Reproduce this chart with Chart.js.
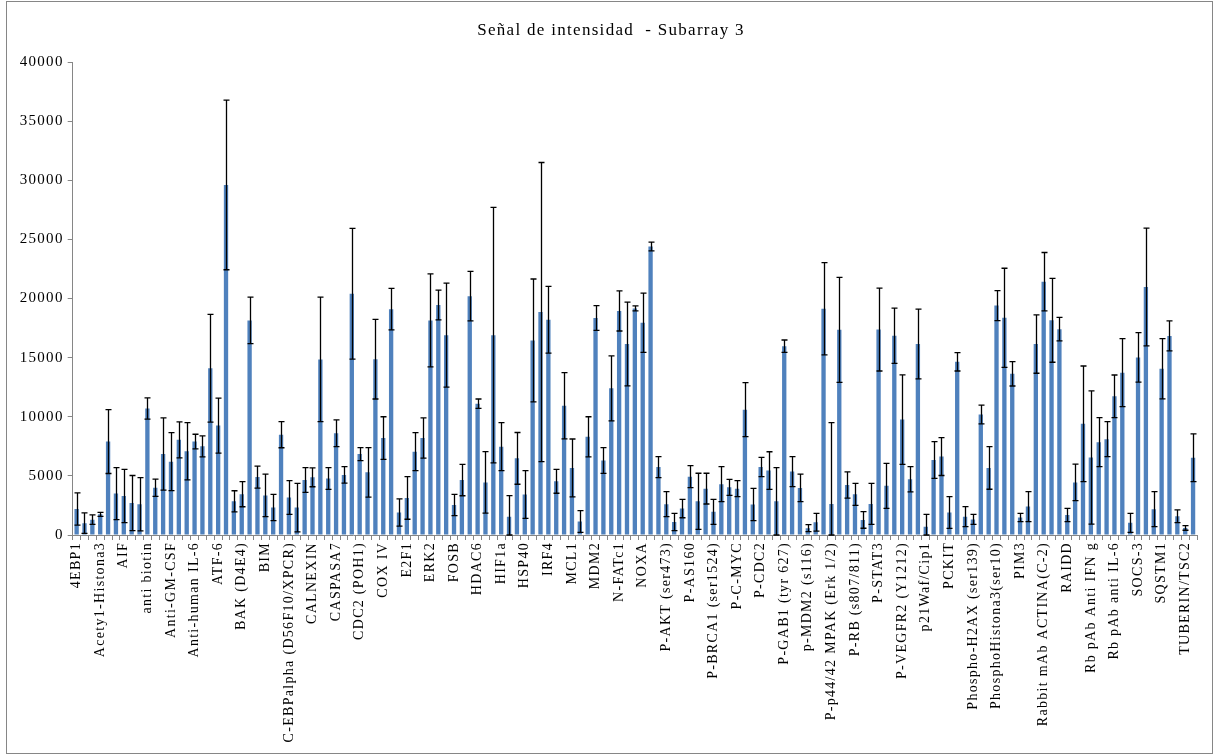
<!DOCTYPE html>
<html>
<head>
<meta charset="utf-8">
<script src="https://cdn.jsdelivr.net/npm/chart.js@4.4.1/dist/chart.umd.min.js"></script>
<style>
  html, body { margin: 0; background: #fff; }
  #wrap { width: 1216px; height: 756px; position: relative; }
</style>
</head>
<body>
<div id="wrap"><canvas id="chart"></canvas></div>
<script>
// Señal de intensidad - Subarray 3
// one bar per spot, only every 3rd category carries a printed label

const chartTitle = 'Señal de intensidad  - Subarray 3';

const antibodies = [
  '4EBP1', 'Acety1-Histona3', 'AIF', 'anti biotin', 'Anti-GM-CSF', 'Anti-human IL-6',
  'ATF-6', 'BAK (D4E4)', 'BIM', 'C-EBPalpha (D56F10/XPCR)', 'CALNEXIN', 'CASPASA7',
  'CDC2 (POH1)', 'COX IV', 'E2F1', 'ERK2', 'FOSB', 'HDAC6', 'HIF1a', 'HSP40', 'IRF4',
  'MCL1', 'MDM2', 'N-FATc1', 'NOXA', 'P-AKT (ser473)', 'P-AS160', 'P-BRCA1 (ser1524)',
  'P-C-MYC', 'P-CDC2', 'P-GAB1 (tyr 627)', 'p-MDM2 (s116)', 'P-p44/42 MPAK (Erk 1/2)',
  'P-RB (s807/811)', 'P-STAT3', 'P-VEGFR2 (Y1212)', 'p21Waf/Cip1', 'PCKIT',
  'Phospho-H2AX (ser139)', 'PhosphoHistona3(ser10)', 'PIM3', 'Rabbit mAb ACTINA(C-2)',
  'RAIDD', 'Rb pAb Anti IFN g', 'Rb pAb anti IL-6', 'SOCS-3', 'SQSTM1', 'TUBERIN/TSC2',
];

const values = [
  2200, 1000, 1300, 1750, 7900, 3500, 3300, 2700, 2600, 10700,
  4000, 6850, 6200, 8050, 7080, 7900, 7500, 14100, 9250, 29600,
  2850, 3450, 18150, 4900, 3350, 2320, 8480, 3170, 2320, 4650,
  4880, 14850, 4780, 8600, 5080, 20400, 6840, 5300, 14870, 8200,
  19100, 1900, 3130, 7050, 8200, 18150, 19450, 16900, 2540, 4650,
  20200, 11100, 4450, 16900, 7470, 1550, 6480, 3430, 16450, 18850,
  18200, 4540, 10930, 5670, 1140, 8300, 18350, 6300, 12400, 18950,
  16150, 19160, 17950, 24400, 5740, 2610, 1100, 2240, 4935, 2850,
  3920, 1960, 4300, 4030, 3920, 10600, 2580, 5750, 5450, 2850,
  15970, 5360, 3980, 580, 1080, 19130, 2620, 17350, 4220, 3440,
  1270, 2630, 17370, 4160, 16850, 9760, 4710, 16150, 700, 6345,
  6630, 1900, 14650, 1550, 1320, 10190, 5670, 19400, 18370, 13630,
  1480, 2400, 16150, 21420, 18160, 17410, 1690, 4450, 9400, 6550,
  7850, 8100, 11730, 13730, 1030, 15020, 20970, 2180, 14060, 16835,
  1580, 600, 6530,
];

const errors = [
  1370, 870, 400, 170, 2700, 2200, 2250, 2330, 2250, 900,
  730, 3050, 2450, 1520, 2420, 620, 890, 4550, 2330, 7170,
  890, 1060, 1960, 930, 1790, 1110, 1100, 1420, 2050, 1040,
  800, 5260, 920, 1130, 700, 5530, 550, 2090, 3370, 1800,
  1760, 1150, 1800, 1600, 1700, 3930, 1250, 4400, 900, 1330,
  2100, 400, 2600, 10800, 2030, 1780, 2190, 2020, 5200, 12650,
  2820, 1010, 2800, 2450, 920, 1700, 1050, 1090, 2750, 1700,
  3540, 210, 2500, 370, 890, 1060, 730, 780, 930, 2370,
  1300, 1060, 1480, 680, 680, 2280, 1370, 820, 1590, 2850,
  520, 1270, 1160, 300, 750, 3900, 6880, 4440, 1110, 930,
  700, 1730, 3500, 1900, 2330, 3780, 1070, 2950, 1050, 1550,
  1600, 1340, 780, 850, 420, 800, 1800, 1270, 4190, 1030,
  350, 1270, 2470, 2470, 3550, 1000, 560, 1550, 4890, 5630,
  2070, 1480, 1800, 2880, 800, 2100, 4980, 1480, 2550, 1270,
  540, 200, 2020,
];

const yTicks = [0, 5000, 10000, 15000, 20000, 25000, 30000, 35000, 40000];

const LABEL_STEP = 3;
const categories = values.map((_, i) => (i % LABEL_STEP === 0 ? antibodies[i / LABEL_STEP] : ''));

const AXIS_GREY = '#868686';
const SERIF = "'Liberation Serif', 'Times New Roman', serif";

// error bars (+/-), title, wider text spacing and the outer frame
const errorBars = {
  id: 'errorBars',
  beforeDraw(chart) {
    chart.ctx.letterSpacing = '1.3px';
  },
  afterDatasetsDraw(chart) {
    const { ctx, scales: { y } } = chart;
    const meta = chart.getDatasetMeta(0);
    ctx.save();
    ctx.strokeStyle = '#000';
    ctx.lineWidth = 1.3;
    meta.data.forEach((bar, i) => {
      const hi = y.getPixelForValue(values[i] + errors[i]);
      const lo = y.getPixelForValue(Math.max(0, values[i] - errors[i]));
      const x = Math.round(bar.x) + 0.5;
      ctx.beginPath();
      ctx.moveTo(x, hi); ctx.lineTo(x, lo);
      ctx.moveTo(x - 3, hi); ctx.lineTo(x + 3, hi);
      ctx.moveTo(x - 3, lo); ctx.lineTo(x + 3, lo);
      ctx.stroke();
    });
    ctx.restore();
  },
  afterDraw(chart) {
    const { ctx } = chart;
    ctx.save();
    ctx.fillStyle = '#000';
    ctx.font = `17px ${SERIF}`;
    ctx.textAlign = 'center';
    ctx.textBaseline = 'middle';
    ctx.fillText(chartTitle, 611, 31);
    ctx.strokeStyle = AXIS_GREY;
    ctx.lineWidth = 1;
    ctx.strokeRect(6.5, 1.5, 1206, 752);
    ctx.restore();
  },
};

new Chart(document.getElementById('chart'), {
  type: 'bar',
  data: {
    labels: categories,
    datasets: [{
      data: values,
      backgroundColor: '#4F81BD',
      barPercentage: 0.55,
      categoryPercentage: 1.0,
    }],
  },
  options: {
    responsive: true,
    maintainAspectRatio: false,
    animation: false,
    layout: { padding: { left: 8, right: 19, top: 62, bottom: 8 } },
    plugins: {
      legend: { display: false },
      tooltip: { enabled: false },
      title: { display: false },
    },
    scales: {
      x: {
        grid: { drawOnChartArea: false, drawTicks: true, tickLength: 5, color: AXIS_GREY, offset: true },
        border: { color: AXIS_GREY },
        ticks: {
          autoSkip: false,
          maxRotation: 90,
          minRotation: 90,
          padding: 2,
          color: '#000',
          font: { family: SERIF, size: 14 },
        },
        afterFit(scale) { scale.height = 756 - 8 - 535; },
      },
      y: {
        min: 0,
        max: 40000,
        afterBuildTicks(scale) { scale.ticks = yTicks.map(v => ({ value: v })); },
        grid: { drawOnChartArea: false, drawTicks: true, tickLength: 5, color: AXIS_GREY },
        border: { color: AXIS_GREY },
        ticks: {
          padding: 4,
          color: '#000',
          font: { family: SERIF, size: 15 },
          callback: v => String(v),
        },
        afterFit(scale) { scale.width = 72.7 - 8; },
      },
    },
  },
  plugins: [errorBars],
});
</script>
</body>
</html>
